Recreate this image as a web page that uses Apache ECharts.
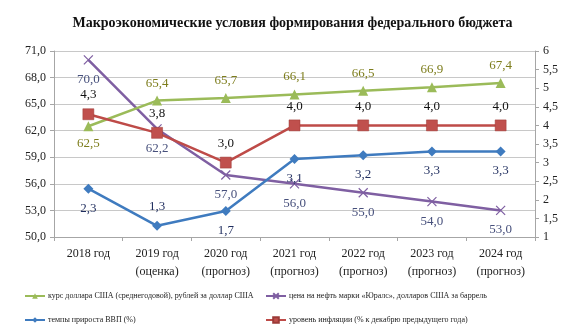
<!DOCTYPE html>
<html>
<head>
<meta charset="utf-8">
<script src="https://cdn.jsdelivr.net/npm/echarts@6/dist/echarts.min.js"></script>
<style>
html,body{margin:0;padding:0;background:#fff;}
#chart{width:585px;height:332px;}
</style>
</head>
<body>
<div id="chart"></div>
<script>
// Years of the forecast horizon
const categories = ['2018 год', '2019 год\n(оценка)', '2020 год\n(прогноз)', '2021 год\n(прогноз)', '2022 год\n(прогноз)', '2023 год\n(прогноз)', '2024 год\n(прогноз)'];
// Left axis series
const rubleRate = [62.5, 65.4, 65.7, 66.1, 66.5, 66.9, 67.4];
const oilPrice = [70.0, 62.2, 57.0, 56.0, 55.0, 54.0, 53.0];
// Right axis series
const gdpGrowth = [2.3, 1.3, 1.7, 3.1, 3.2, 3.3, 3.3];
const inflation = [4.3, 3.8, 3.0, 4.0, 4.0, 4.0, 4.0];

const names = {
  ruble: 'курс доллара США (среднегодовой), рублей за доллар США',
  oil: 'цена на нефть марки «Юралс», долларов США за баррель',
  gdp: 'темпы прироста ВВП (%)',
  infl: 'уровень инфляции (% к декабрю предыдущего года)'
};

const serif = '"Liberation Serif", "DejaVu Serif", serif';
const comma1 = v => v.toFixed(1).replace('.', ',');

// Per-point label placement
const rubleLabelPos = ['bottom', 'top', 'top', 'top', 'top', 'top', 'top'];
const gdpLabelPos = ['bottom', 'top', 'bottom', 'bottom', 'bottom', 'bottom', 'bottom'];

function withLabels(values, positions, dist) {
  return values.map((v, i) => ({
    value: v,
    label: { position: positions ? positions[i] : undefined, distance: dist }
  }));
}

const chart = echarts.init(document.getElementById('chart'));

const labelBase = (color) => ({
  show: true,
  fontFamily: serif,
  fontSize: 13,
  color: color,
  formatter: p => comma1(p.value)
});

const legendCommon = {
  orient: 'vertical', top: 292, itemGap: 16, padding: 0,
  itemWidth: 20, itemHeight: 7,
  textStyle: { fontFamily: serif, fontSize: 8, color: '#222', padding: [0, 0, 0, -2] }
};

chart.setOption({
  animation: false,
  backgroundColor: '#fff',
  title: {
    text: 'Макроэкономические условия формирования федерального бюджета',
    left: 'center',
    top: 11,
    textStyle: { fontFamily: serif, fontSize: 14, fontWeight: 'bold', color: '#111' }
  },
  grid: { left: 54, right: 50, top: 51, bottom: 95 },
  legend: [
    Object.assign({ left: 24, data: [names.ruble, names.gdp] }, legendCommon),
    Object.assign({ left: 265, data: [names.oil, names.infl] }, legendCommon)
  ],
  xAxis: {
    type: 'category',
    data: categories,
    boundaryGap: true,
    axisLine: { lineStyle: { color: '#a6a6a6' } },
    axisTick: { show: true, length: 4, lineStyle: { color: '#a6a6a6' } },
    axisLabel: { fontFamily: serif, fontSize: 12, color: '#222', lineHeight: 18, margin: 8, interval: 0 }
  },
  yAxis: [
    {
      type: 'value', min: 50, max: 71, interval: 3,
      axisLine: { show: true, lineStyle: { color: '#a6a6a6' } },
      axisTick: { show: true, length: 4, lineStyle: { color: '#a6a6a6' } },
      splitLine: { lineStyle: { color: '#c8c8c8' } },
      axisLabel: { fontFamily: serif, fontSize: 12, color: '#222', margin: 8, formatter: v => comma1(v) }
    },
    {
      type: 'value', min: 1, max: 6, interval: 0.5,
      axisLine: { show: true, lineStyle: { color: '#a6a6a6' } },
      axisTick: { show: true, length: 4, lineStyle: { color: '#a6a6a6' } },
      splitLine: { show: false },
      axisLabel: { fontFamily: serif, fontSize: 12, color: '#222', margin: 8, formatter: v => String(v).replace('.', ',') }
    }
  ],
  series: [
    {
      name: names.ruble, type: 'line', yAxisIndex: 0,
      data: withLabels(rubleRate, rubleLabelPos, 6),
      symbol: 'triangle', symbolSize: 10,
      lineStyle: { color: '#9bbb59', width: 2.5 },
      itemStyle: { color: '#9bbb59' },
      label: labelBase('#7d7d1c'),
      z: 3
    },
    {
      name: names.oil, type: 'line', yAxisIndex: 0,
      data: withLabels(oilPrice, null, 8),
      symbol: 'path://M0,0L10,10M10,0L0,10', symbolSize: 9,
      lineStyle: { color: '#7f5fa2', width: 2.5 },
      itemStyle: { color: '#7f5fa2', borderColor: '#7f5fa2', borderWidth: 1.2 },
      label: Object.assign(labelBase('#47507c'), { position: 'bottom' }),
      z: 2
    },
    {
      name: names.gdp, type: 'line', yAxisIndex: 1,
      data: withLabels(gdpGrowth, gdpLabelPos, 8),
      symbol: 'diamond', symbolSize: 10,
      lineStyle: { color: '#3f7bbf', width: 2.5 },
      itemStyle: { color: '#3f7bbf' },
      label: labelBase('#1f2d5e'),
      z: 4
    },
    {
      name: names.infl, type: 'line', yAxisIndex: 1,
      data: withLabels(inflation, null, 7),
      symbol: 'rect', symbolSize: 11,
      lineStyle: { color: '#be4b48', width: 2.5 },
      itemStyle: { color: '#c0504d', borderColor: '#9c3a37', borderWidth: 0.5 },
      label: Object.assign(labelBase('#111'), { position: 'top' }),
      z: 5
    }
  ]
});
</script>
</body>
</html>
